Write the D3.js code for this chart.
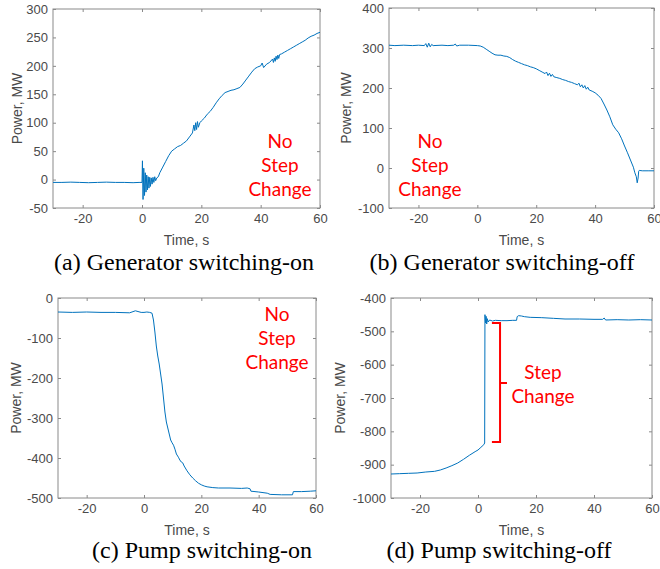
<!DOCTYPE html>
<html>
<head>
<meta charset="utf-8">
<script src="https://cdn.jsdelivr.net/npm/d3@7"></script>
<style>
  body { margin: 0; background: #fff; }
  svg { display: block; }
</style>
</head>
<body>
<div id="chart"></div>
<script>
// (a) generator switching-on
const genOnTime = [-30, -27, -24, -21, -18, -15, -12, -9, -6, -3, -1, 0, 0.15, 0.35, 0.6, 0.85, 1.1, 1.35, 1.6, 1.85, 2.1, 2.35, 2.6, 2.85, 3.1, 3.4, 3.7, 4, 4.3, 4.6, 5, 5.5, 6, 7, 8, 9, 10, 11, 12, 13, 14, 15, 16, 17, 17.5, 17.8, 18.1, 18.4, 18.7, 19, 19.5, 20, 21, 22, 23, 24, 25, 26, 27, 28, 29, 30, 31, 32, 33, 34, 35, 36, 37, 38, 39, 40, 40.5, 41, 42, 43, 44, 44.3, 44.6, 44.9, 45.2, 45.5, 45.8, 46.1, 46.4, 47, 48, 49, 50, 51, 52, 53, 54, 55, 56, 57, 58, 59, 60]
const genOnPower = [-5, -5, -4.5, -5, -5.5, -5, -4.5, -5, -5, -5.5, -5, -5, 33, -35, 20, -28, 12, -22, 8, -18, 5, -15, 4, -12, 3, -8, 4, -5, 5, -2, 3, 5, 12, 22, 32, 42, 50, 54, 58, 60, 64, 68, 75, 82, 96, 86, 100, 88, 102, 92, 100, 103, 108, 115, 120, 127, 135, 142, 148, 153, 155, 157, 158, 160, 162, 168, 175, 182, 189, 195, 198, 200, 205, 197, 203, 206, 212, 206, 214, 208, 217, 211, 219, 213, 220, 221, 224, 227, 230, 233, 236, 239, 242, 245, 249, 252, 254, 257, 259]

// (b) generator switching-off
const genOffTime = [-30, -28, -25, -22, -20, -18, -17.5, -17, -16.5, -16, -15.5, -15, -12, -10, -8, -7.5, -7, -6, -3, 0, 1, 2, 3, 4, 5, 6, 7, 8, 9, 10, 11, 12, 13, 14, 15, 16, 17, 18, 19, 20, 21, 22, 23, 23.5, 24, 24.5, 25, 25.5, 26, 27, 28, 29, 30, 31, 32, 33, 34, 34.5, 35, 35.5, 36, 36.5, 37, 37.5, 38, 39, 40, 41, 42, 43, 44, 45, 46, 47, 48, 49, 50, 51, 52, 53, 53.5, 54, 54.3, 54.6, 54.8, 55, 56, 58, 60]
const genOffPower = [307, 306, 307, 306, 307, 306, 311, 302, 312, 303, 309, 306, 307, 306, 307, 310, 305, 307, 307, 306, 305, 302, 297, 292, 287, 283, 282, 282, 280, 279, 276, 271, 267, 264, 261, 258, 256, 253, 251, 248, 244, 240, 236, 240, 231, 237, 229, 234, 228, 226, 224, 221, 219, 216, 214, 211, 208, 212, 203, 208, 200, 206, 197, 202, 195, 192, 188, 182, 174, 160, 145, 128, 108, 97, 88, 73, 55, 38, 20, 2, -12, -22, -37, -25, -8, -6, -7, -7, -7]

// (c) pump switching-on
const pumpOnTime = [-30, -25, -20, -15, -10, -5, -3, -1, 0, 1, 2, 2.8, 3.3, 3.8, 4.3, 4.8, 5.3, 5.8, 6.3, 6.8, 7.3, 7.8, 8.3, 8.8, 9.3, 9.8, 10.3, 10.8, 11.3, 12, 12.5, 13, 13.5, 14, 15, 16, 17, 18, 19, 20, 21, 22, 24, 26, 30, 34, 36, 37, 37.3, 40, 43, 44, 48, 51.8, 52.1, 55, 58, 60]
const pumpOnPower = [-35, -36, -35, -36, -36, -37, -32, -36, -36, -35, -36, -38, -55, -85, -120, -145, -165, -190, -215, -250, -285, -310, -325, -340, -355, -362, -368, -378, -390, -398, -405, -410, -412, -420, -432, -442, -450, -457, -463, -467, -470, -472, -474, -475, -475, -476, -475, -477, -483, -485, -488, -491, -492, -492, -484, -484, -483, -482]

// (d) pump switching-off
const pumpOffTime = [-30, -27, -24, -21, -18, -15, -13, -11, -9, -7, -5, -3, -1, 0, 1, 2, 2.3, 2.4, 2.6, 2.8, 3, 3.2, 3.5, 4, 5, 6, 8, 10, 12, 13.3, 13.5, 14, 15, 16, 18, 22, 26, 30, 35, 40, 43, 43.5, 44, 48, 52, 56, 60]
const pumpOffPower = [-928, -927, -926, -925, -922, -920, -916, -910, -903, -895, -884, -872, -861, -856, -848, -840, -835, -450, -475, -455, -478, -462, -472, -466, -469, -467, -468, -468, -467, -467, -456, -453, -454, -456, -458, -459, -461, -463, -463, -464, -464, -460, -466, -465, -466, -465, -466]

const xTicks = [-20, 0, 20, 40, 60]
const captions = ['(a) Generator switching-on', '(b) Generator switching-off', '(c) Pump switching-on', '(d) Pump switching-off']

const width = 660
const height = 569

const sansFont = "'Liberation Sans', Arial, sans-serif"
const serifFont = "'Liberation Serif', 'Times New Roman', serif"
const noteFont = "Lato, 'Open Sans', sans-serif"

const svg = d3
  .select('#chart')
  .append('svg')
  .attr('width', width)
  .attr('height', height)

const panels = [
  {
    box: { left: 53, right: 320, top: 9, bottom: 208 },
    time: genOnTime,
    power: genOnPower,
    yDomain: [-50, 300],
    yTicks: [-50, 0, 50, 100, 150, 200, 250, 300],
    caption: captions[0],
    captionX: 184,
    captionY: 270,
    labelX: 18,
    note: { t: 46.5, p: 64, lines: ['No', 'Step', 'Change'] }
  },
  {
    box: { left: 389, right: 654, top: 8, bottom: 208 },
    time: genOffTime,
    power: genOffPower,
    yDomain: [-100, 400],
    yTicks: [-100, 0, 100, 200, 300, 400],
    caption: captions[1],
    captionX: 502,
    captionY: 270,
    labelX: 347,
    note: { t: -16.1, p: 62, lines: ['No', 'Step', 'Change'] }
  },
  {
    box: { left: 58, right: 316, top: 298, bottom: 498 },
    time: pumpOnTime,
    power: pumpOnPower,
    yDomain: [-500, 0],
    yTicks: [-500, -400, -300, -200, -100, 0],
    caption: captions[2],
    captionX: 202,
    captionY: 558,
    labelX: 17,
    note: { t: 46.4, p: -45, lines: ['No', 'Step', 'Change'] }
  },
  {
    box: { left: 391, right: 652, top: 298, bottom: 498 },
    time: pumpOffTime,
    power: pumpOffPower,
    yDomain: [-1000, -400],
    yTicks: [-1000, -900, -800, -700, -600, -500, -400],
    caption: captions[3],
    captionX: 499,
    captionY: 558,
    labelX: 341,
    note: { t: 22.4, p: -628, lines: ['Step', 'Change'] },
    bracket: { t: 7.6, hook: 4.8, tip: 10, top: -475, bottom: -832, mid: -655 }
  }
]

panels.forEach(drawPanel)

function drawPanel(cfg) {
  const b = cfg.box
  const x = d3.scaleLinear().domain([-30, 60]).range([b.left, b.right])
  const y = d3.scaleLinear().domain(cfg.yDomain).range([b.bottom, b.top])

  // plain hyphen minus, no thousands comma (matlab style)
  const fmt = d => String(d)

  // ticks on all four sides, pointing in like matlab
  const styleAxis = sel => {
    sel.select('.domain').remove()
    sel.selectAll('line').attr('stroke', '#8a8a8a')
    sel
      .selectAll('text')
      .attr('fill', '#4a4a4a')
      .attr('font-family', sansFont)
      .attr('font-size', 13)
  }

  const g = svg.append('g')

  g.append('g')
    .attr('transform', 'translate(0,' + b.bottom + ')')
    .call(d3.axisBottom(x).tickValues(xTicks).tickSize(-3).tickPadding(6).tickFormat(fmt))
    .call(styleAxis)

  g.append('g')
    .attr('transform', 'translate(0,' + b.top + ')')
    .call(d3.axisTop(x).tickValues(xTicks).tickSize(-3).tickFormat(''))
    .call(styleAxis)

  g.append('g')
    .attr('transform', 'translate(' + b.left + ',0)')
    .call(d3.axisLeft(y).tickValues(cfg.yTicks).tickSize(-3).tickPadding(5).tickFormat(fmt))
    .call(styleAxis)

  g.append('g')
    .attr('transform', 'translate(' + b.right + ',0)')
    .call(d3.axisRight(y).tickValues(cfg.yTicks).tickSize(-3).tickFormat(''))
    .call(styleAxis)

  g.append('rect')
    .attr('x', b.left)
    .attr('y', b.top)
    .attr('width', b.right - b.left)
    .attr('height', b.bottom - b.top)
    .attr('fill', 'none')
    .attr('stroke', '#8a8a8a')
    .attr('stroke-width', 1)

  const points = cfg.time.map((t, i) => [t, cfg.power[i]])

  const line = d3
    .line()
    .x(d => x(d[0]))
    .y(d => y(d[1]))

  g.append('path')
    .datum(points)
    .attr('d', line)
    .attr('fill', 'none')
    .attr('stroke', '#0072BD')
    .attr('stroke-width', 1)

  // axis titles
  g.append('text')
    .attr('x', (b.left + b.right) / 2)
    .attr('y', b.bottom + 37)
    .attr('text-anchor', 'middle')
    .attr('font-family', sansFont)
    .attr('font-size', 14)
    .attr('fill', '#4a4a4a')
    .text('Time, s')

  g.append('text')
    .attr('transform', 'translate(' + cfg.labelX + ',' + (b.top + b.bottom) / 2 + ') rotate(-90)')
    .attr('text-anchor', 'middle')
    .attr('dominant-baseline', 'middle')
    .attr('font-family', sansFont)
    .attr('font-size', 14)
    .attr('fill', '#4a4a4a')
    .text('Power, MW')

  // red annotation
  g.selectAll('.note')
    .data(cfg.note.lines)
    .enter()
    .append('text')
    .attr('class', 'note')
    .attr('x', x(cfg.note.t))
    .attr('y', (d, i) => y(cfg.note.p) + i * 24)
    .attr('text-anchor', 'middle')
    .attr('dominant-baseline', 'middle')
    .attr('font-family', noteFont)
    .attr('font-size', 19)
    .attr('fill', '#ff0000')
    .text(d => d)

  if (cfg.bracket) {
    const br = cfg.bracket
    const path = d3.path()
    path.moveTo(x(br.hook), y(br.top))
    path.lineTo(x(br.t), y(br.top))
    path.lineTo(x(br.t), y(br.bottom))
    path.lineTo(x(br.hook), y(br.bottom))
    path.moveTo(x(br.t), y(br.mid))
    path.lineTo(x(br.tip), y(br.mid))
    g.append('path')
      .attr('d', path.toString())
      .attr('fill', 'none')
      .attr('stroke', '#ff0000')
      .attr('stroke-width', 2)
  }

  g.append('text')
    .attr('x', cfg.captionX)
    .attr('y', cfg.captionY)
    .attr('text-anchor', 'middle')
    .attr('font-family', serifFont)
    .attr('font-size', 24)
    .attr('fill', '#000')
    .text(cfg.caption)
}
</script>
</body>
</html>
